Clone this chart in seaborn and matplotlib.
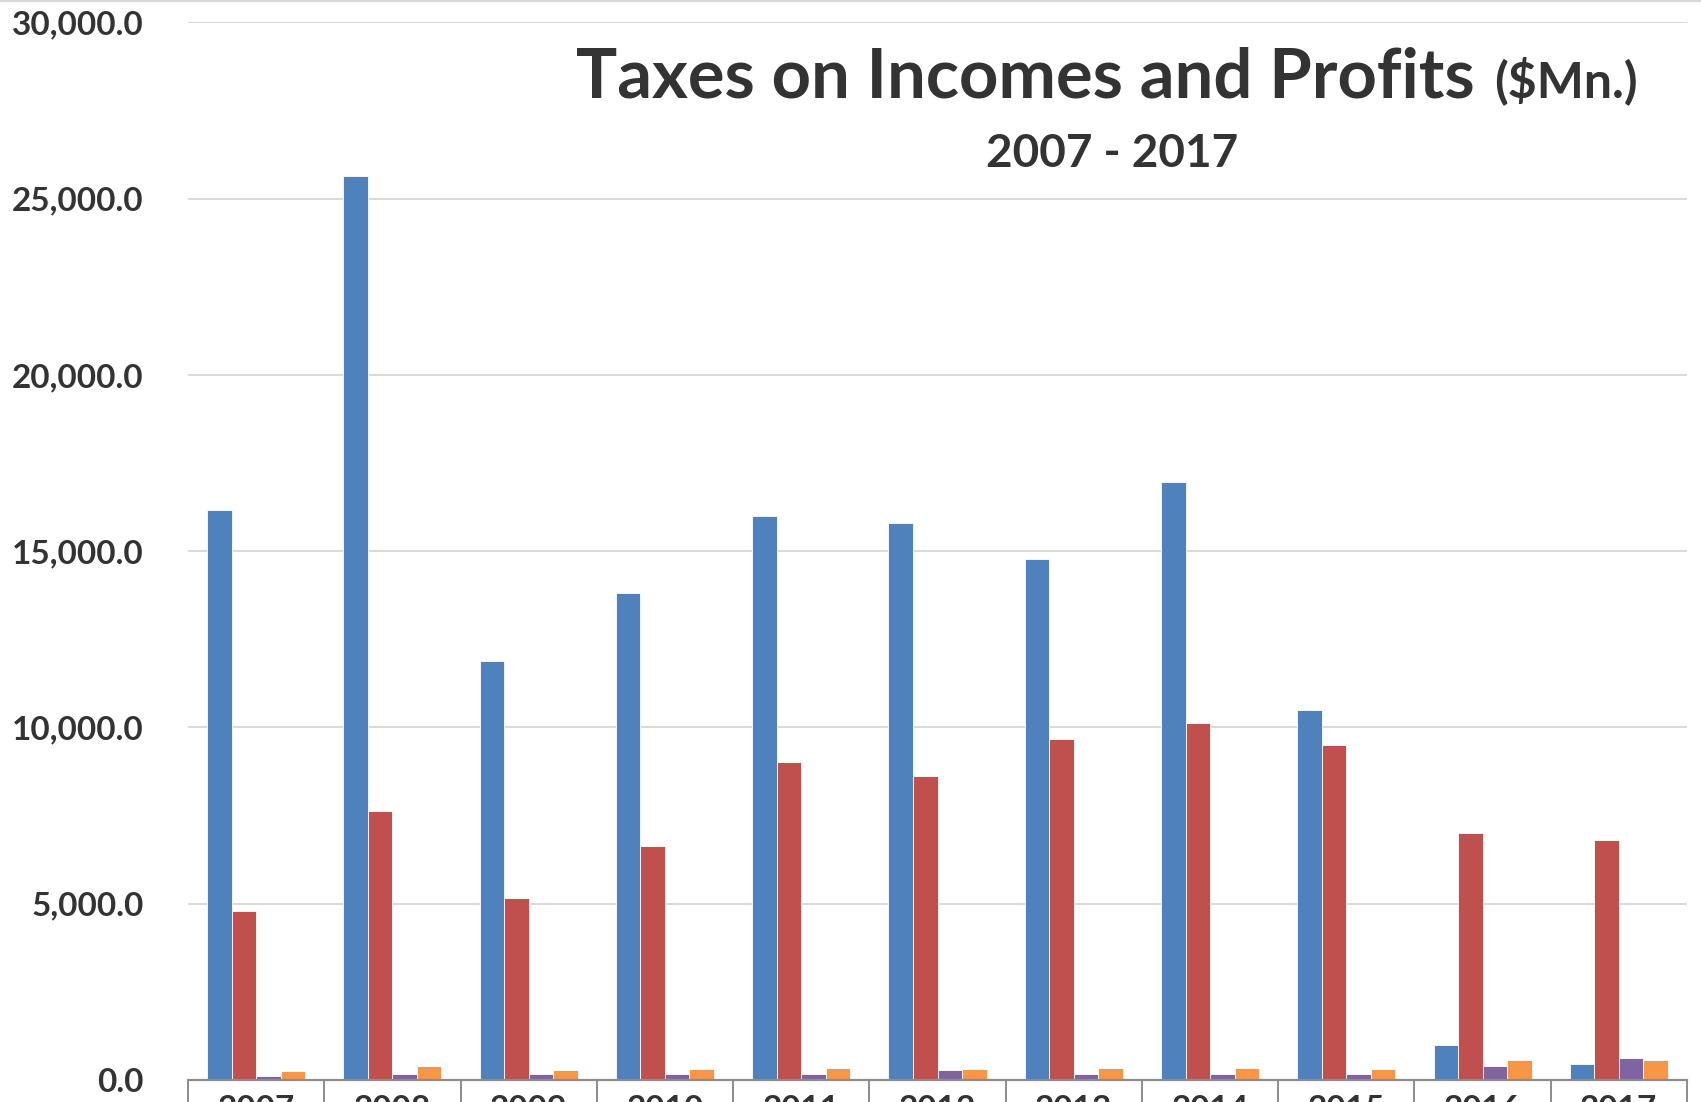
import numpy as np
import pandas as pd
import matplotlib
matplotlib.use('Agg')
import matplotlib.pyplot as plt
import seaborn as sns
from matplotlib.ticker import FuncFormatter, FixedLocator
from matplotlib.lines import Line2D

# data ($Mn.)
years = ['2007', '2008', '2009', '2010', '2011', '2012', '2013', '2014', '2015', '2016', '2017']
series_names = ['Series 1', 'Series 2', 'Series 3', 'Series 4']
blue_vals = [16180, 25640, 11880, 13820, 16000, 15810, 14770, 16950, 10500, 1000, 440]
red_vals = [4790, 7620, 5160, 6630, 9030, 8630, 9670, 10130, 9490, 7000, 6820]
purple_vals = [110, 160, 180, 180, 180, 270, 160, 170, 180, 400, 610]
orange_vals = [250, 410, 290, 300, 340, 320, 340, 350, 310, 580, 580]
colors = ['#4F81BD', '#C0504D', '#8064A2', '#F79646']

# long form table for seaborn
df = pd.DataFrame({
    'year': years * 4,
    'series': np.repeat(series_names, len(years)),
    'value': blue_vals + red_vals + purple_vals + orange_vals,
})

sns.set_theme(style='white')
plt.rcParams['font.family'] = ['Lato', 'DejaVu Sans']

fig = plt.figure(figsize=(17.01, 11.02), dpi=100)
ax = fig.add_axes([188 / 1701, 22 / 1102, (1687 - 188) / 1701, (1080 - 22.3) / 1102])

sns.barplot(data=df, x='year', y='value', hue='series', palette=colors,
            width=0.72, gap=0, saturation=1, legend=False, ax=ax,
            edgecolor='white', linewidth=0.6)

ax.set_xlim(-0.5, len(years) - 0.5)
ax.set_ylim(0, 30000)
ax.set_yticks(np.arange(0, 30001, 5000))
ax.yaxis.set_major_formatter(FuncFormatter(lambda v, p: '{:,.1f}'.format(v)))
ax.yaxis.grid(True, color='#D9D9D9', linewidth=1.4)
ax.set_axisbelow(True)
ax.set_xlabel('')
ax.set_ylabel('')

for s in ['left', 'right', 'top']:
    ax.spines[s].set_visible(False)
ax.spines['bottom'].set_color('#8C8C8C')
ax.spines['bottom'].set_linewidth(1.6)

# category separators below the axis
ax.xaxis.set_minor_locator(FixedLocator(np.arange(-0.5, len(years), 1.0)))
ax.tick_params(axis='x', which='minor', length=30, width=1.4, color='#8C8C8C', direction='out', bottom=True)
ax.tick_params(axis='x', which='major', length=0, pad=11, labelsize=24, labelcolor='#333333')
ax.tick_params(axis='y', length=0, pad=32, labelsize=24, labelcolor='#333333')
for lab in ax.get_xticklabels() + ax.get_yticklabels():
    lab.set_fontweight('bold')

# titles
fig.text(1475 / 1701, 1 - 97 / 1102, 'Taxes on Incomes and Profits', ha='right', va='baseline',
         fontsize=49.5, fontweight='bold', color='#333333')
fig.text(1494 / 1701, 1 - 97 / 1102, '($Mn.)', ha='left', va='baseline',
         fontsize=36, fontweight='bold', color='#333333')
fig.text(1112 / 1701, 1 - 167 / 1102, '2007 - 2017', ha='center', va='baseline',
         fontsize=33, fontweight='bold', color='#333333')

fig.add_artist(Line2D([0, 1], [0.999, 0.999], transform=fig.transFigure, color='#D9D9D9', lw=1.5))

fig.savefig('out.png', dpi=100)
